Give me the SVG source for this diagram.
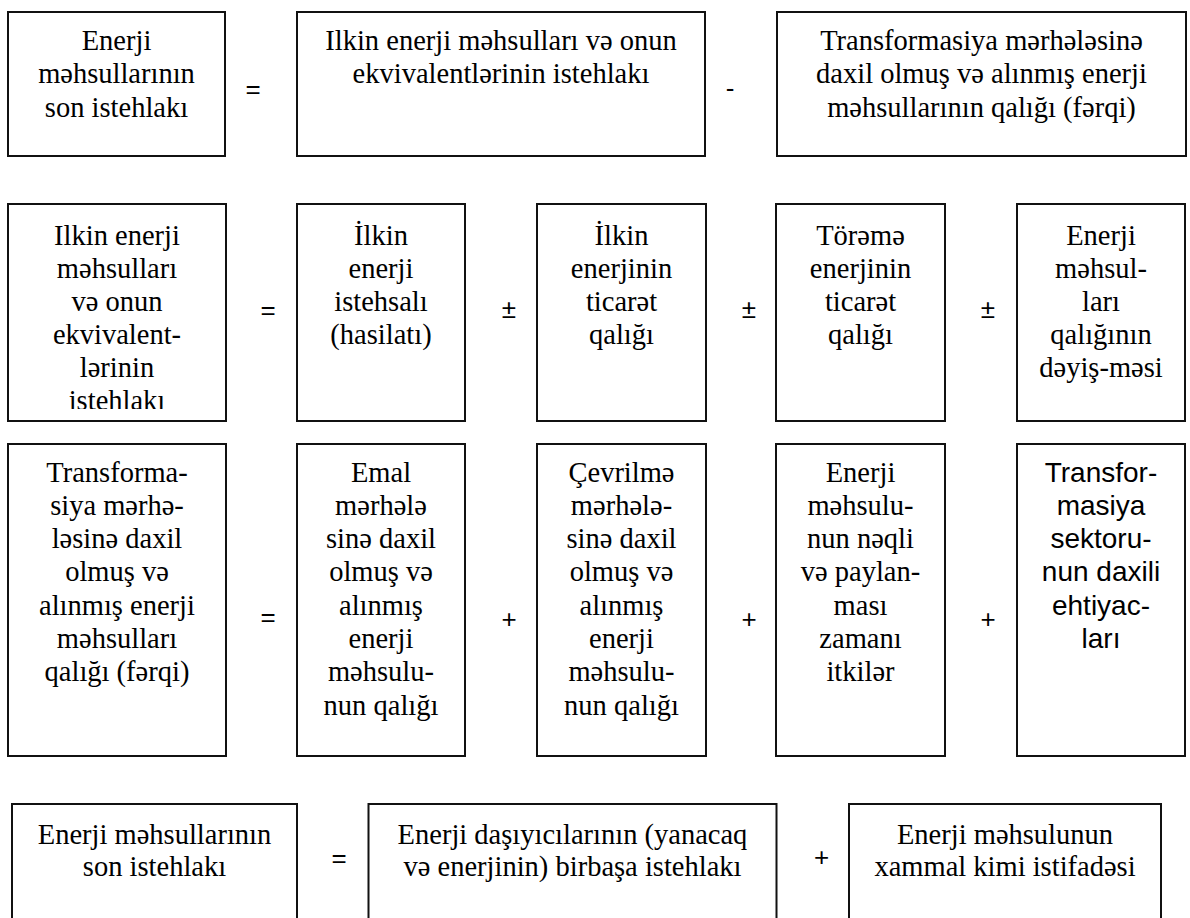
<svg xmlns="http://www.w3.org/2000/svg" width="1190" height="918" viewBox="0 0 1190 918">
  <style>
    .box { fill: #ffffff; stroke: #111111; stroke-width: 2; }
    .t { font-family: "Liberation Serif", "Times New Roman", serif; font-size: 28.5px; fill: #000000; text-anchor: middle; }
    .s { font-family: "Liberation Sans", Arial, sans-serif; font-size: 28px; fill: #000000; text-anchor: middle; }
    .op { font-family: "Liberation Sans", Arial, sans-serif; font-size: 26px; fill: #000000; text-anchor: middle; }
  </style>
  <defs>
    <clipPath id="clip-r2a">
      <rect x="8" y="204" width="218" height="205"/>
    </clipPath>
  </defs>
  <rect width="1190" height="918" fill="#ffffff"/>

  <!-- Row 1: final consumption = primary consumption - transformation balance -->
  <g id="r1-final">
    <rect class="box" x="8" y="12" width="217" height="144"/>
    <text class="t" x="116.5" y="50">Enerji</text>
    <text class="t" x="116.5" y="83">məhsullarının</text>
    <text class="t" x="116.5" y="117">son istehlakı</text>
  </g>
  <g id="r1-primary">
    <rect class="box" x="297" y="12" width="408" height="144"/>
    <text class="t" x="501" y="50">Ilkin enerji məhsulları və onun</text>
    <text class="t" x="501" y="83">ekvivalentlərinin istehlakı</text>
  </g>
  <g id="r1-transform">
    <rect class="box" x="777" y="12" width="409" height="144"/>
    <text class="t" x="981.5" y="50">Transformasiya mərhələsinə</text>
    <text class="t" x="981.5" y="83">daxil olmuş və alınmış enerji</text>
    <text class="t" x="981.5" y="117">məhsullarının qalığı (fərqi)</text>
  </g>

  <!-- Row 2: primary consumption breakdown -->
  <g id="r2-primary">
    <rect class="box" x="8" y="204" width="218" height="217"/>
    <g clip-path="url(#clip-r2a)">
      <text class="t" x="117" y="245">Ilkin enerji</text>
      <text class="t" x="117" y="278">məhsulları</text>
      <text class="t" x="117" y="311">və onun</text>
      <text class="t" x="117" y="344">ekvivalent-</text>
      <text class="t" x="117" y="377">lərinin</text>
      <text class="t" x="117" y="410">istehlakı</text>
    </g>
  </g>
  <g id="r2-production">
    <rect class="box" x="297" y="204" width="168" height="217"/>
    <text class="t" x="381" y="245">İlkin</text>
    <text class="t" x="381" y="278">enerji</text>
    <text class="t" x="381" y="311">istehsalı</text>
    <text class="t" x="381" y="344">(hasilatı)</text>
  </g>
  <g id="r2-primary-trade">
    <rect class="box" x="537" y="204" width="169" height="217"/>
    <text class="t" x="621.5" y="245">İlkin</text>
    <text class="t" x="621.5" y="278">enerjinin</text>
    <text class="t" x="621.5" y="311">ticarət</text>
    <text class="t" x="621.5" y="344">qalığı</text>
  </g>
  <g id="r2-derived-trade">
    <rect class="box" x="776" y="204" width="169" height="217"/>
    <text class="t" x="860.5" y="245">Törəmə</text>
    <text class="t" x="860.5" y="278">enerjinin</text>
    <text class="t" x="860.5" y="311">ticarət</text>
    <text class="t" x="860.5" y="344">qalığı</text>
  </g>
  <g id="r2-stock-change">
    <rect class="box" x="1017" y="204" width="168" height="217"/>
    <text class="t" x="1101" y="245">Enerji</text>
    <text class="t" x="1101" y="278">məhsul-</text>
    <text class="t" x="1101" y="311">ları</text>
    <text class="t" x="1101" y="344">qalığının</text>
    <text class="t" x="1101" y="377">dəyiş-məsi</text>
  </g>

  <!-- Row 3: transformation balance breakdown -->
  <g id="r3-transform">
    <rect class="box" x="8" y="444" width="218" height="312"/>
    <text class="t" x="117" y="482">Transforma-</text>
    <text class="t" x="117" y="515">siya mərhə-</text>
    <text class="t" x="117" y="548">ləsinə daxil</text>
    <text class="t" x="117" y="581">olmuş və</text>
    <text class="t" x="117" y="615">alınmış enerji</text>
    <text class="t" x="117" y="648">məhsulları</text>
    <text class="t" x="117" y="681">qalığı (fərqi)</text>
  </g>
  <g id="r3-refining">
    <rect class="box" x="297" y="444" width="168" height="312"/>
    <text class="t" x="381" y="482">Emal</text>
    <text class="t" x="381" y="515">mərhələ</text>
    <text class="t" x="381" y="548">sinə daxil</text>
    <text class="t" x="381" y="581">olmuş və</text>
    <text class="t" x="381" y="615">alınmış</text>
    <text class="t" x="381" y="648">enerji</text>
    <text class="t" x="381" y="681">məhsulu-</text>
    <text class="t" x="381" y="715">nun qalığı</text>
  </g>
  <g id="r3-conversion">
    <rect class="box" x="537" y="444" width="169" height="312"/>
    <text class="t" x="621.5" y="482">Çevrilmə</text>
    <text class="t" x="621.5" y="515">mərhələ-</text>
    <text class="t" x="621.5" y="548">sinə daxil</text>
    <text class="t" x="621.5" y="581">olmuş və</text>
    <text class="t" x="621.5" y="615">alınmış</text>
    <text class="t" x="621.5" y="648">enerji</text>
    <text class="t" x="621.5" y="681">məhsulu-</text>
    <text class="t" x="621.5" y="715">nun qalığı</text>
  </g>
  <g id="r3-losses">
    <rect class="box" x="776" y="444" width="169" height="312"/>
    <text class="t" x="860.5" y="482">Enerji</text>
    <text class="t" x="860.5" y="515">məhsulu-</text>
    <text class="t" x="860.5" y="548">nun nəqli</text>
    <text class="t" x="860.5" y="581">və paylan-</text>
    <text class="t" x="860.5" y="615">ması</text>
    <text class="t" x="860.5" y="648">zamanı</text>
    <text class="t" x="860.5" y="681">itkilər</text>
  </g>
  <g id="r3-own-use">
    <rect class="box" x="1017" y="444" width="168" height="312"/>
    <text class="s" x="1101" y="482">Transfor-</text>
    <text class="s" x="1101" y="515">masiya</text>
    <text class="s" x="1101" y="548">sektoru-</text>
    <text class="s" x="1101" y="581">nun daxili</text>
    <text class="s" x="1101" y="615">ehtiyac-</text>
    <text class="s" x="1101" y="648">ları</text>
  </g>

  <!-- Row 4: final consumption breakdown -->
  <g id="r4-final">
    <rect class="box" x="12" y="804" width="285" height="130"/>
    <text class="t" x="154.5" y="844">Enerji məhsullarının</text>
    <text class="t" x="154.5" y="876">son istehlakı</text>
  </g>
  <g id="r4-direct">
    <rect class="box" x="368.5" y="804" width="408" height="130"/>
    <text class="t" x="572.5" y="844">Enerji daşıyıcılarının (yanacaq</text>
    <text class="t" x="572.5" y="876">və enerjinin) birbaşa istehlakı</text>
  </g>
  <g id="r4-feedstock">
    <rect class="box" x="849" y="804" width="312" height="130"/>
    <text class="t" x="1005" y="844">Enerji məhsulunun</text>
    <text class="t" x="1005" y="876">xammal kimi istifadəsi</text>
  </g>

  <!-- Operators between the terms -->
  <g id="operators">
    <text class="op" x="253" y="98">=</text>
    <text class="op" x="730" y="97">-</text>

    <text class="op" x="268" y="319">=</text>
    <text class="op" x="509" y="318">±</text>
    <text class="op" x="749" y="318">±</text>
    <text class="op" x="988" y="318">±</text>

    <text class="op" x="268" y="626">=</text>
    <text class="op" x="509" y="628">+</text>
    <text class="op" x="749" y="628">+</text>
    <text class="op" x="988" y="628">+</text>

    <text class="op" x="339" y="867">=</text>
    <text class="op" x="821.5" y="866">+</text>
  </g>
</svg>
